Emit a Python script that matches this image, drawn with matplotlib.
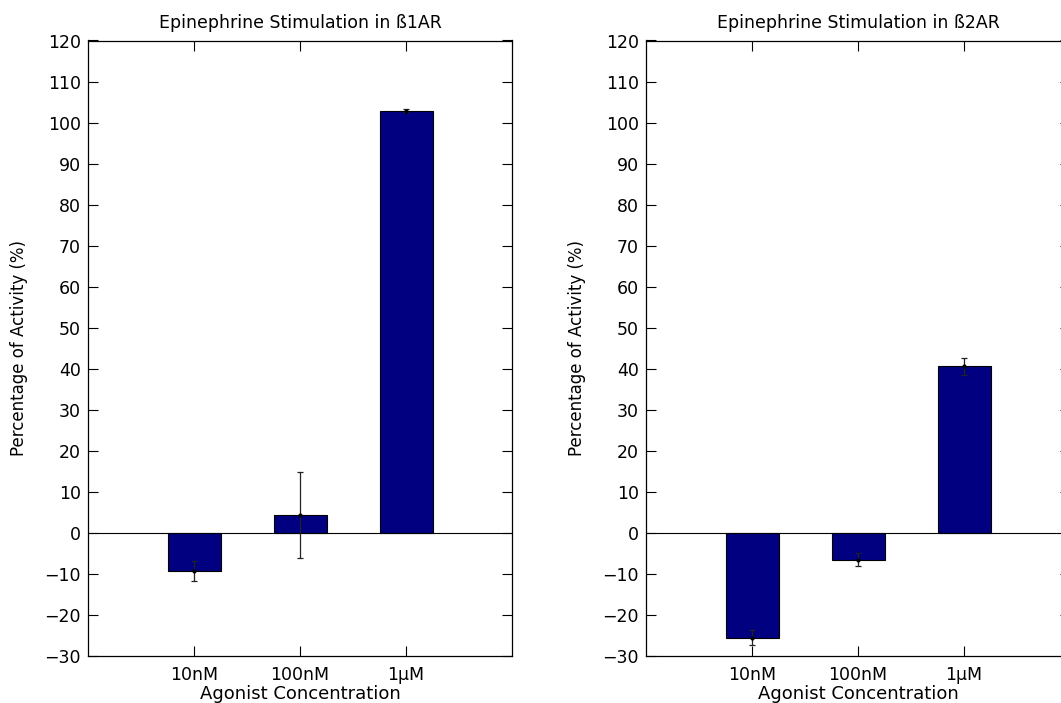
import matplotlib
matplotlib.use('Agg')
import matplotlib.pyplot as plt
import numpy as np

## dados
concentracoes = ['10nM', '100nM', '1\u00b5M']
b1_media = [-9.3, 4.4, 102.9]
b1_erro = [2.4, 10.4, 0.3]
b2_media = [-25.5, -6.5, 40.6]
b2_erro = [1.8, 1.6, 2.0]
titulos = ['Epinephrine Stimulation in \u00df1AR', 'Epinephrine Stimulation in \u00df2AR']

plt.rcParams['font.family'] = ['DejaVu Sans']
plt.rcParams['axes.unicode_minus'] = True

fig = plt.figure(figsize=(10.61, 7.03), dpi=100)
W, H = 1061, 703
ax1 = fig.add_axes([88 / W, 47 / H, 424 / W, 615.5 / H])
ax2 = fig.add_axes([646 / W, 47 / H, 424 / W, 615.5 / H])

x = np.arange(1, len(concentracoes) + 1)
for ax, media, erro, titulo in [(ax1, b1_media, b1_erro, titulos[0]),
                                (ax2, b2_media, b2_erro, titulos[1])]:
    ax.bar(x, media, width=0.5, color='#000080', edgecolor='black', linewidth=0.8, zorder=2)
    ax.axhline(0, color='black', linewidth=0.8, zorder=3)
    ax.errorbar(x, media, yerr=erro, fmt='.', color='black', ecolor='#222222',
                elinewidth=0.9, capsize=2.5, capthick=0.9, markersize=4, zorder=4)
    ax.set_xlim(0, 4)
    ax.set_ylim(-30, 120)
    ax.set_yticks(np.arange(-30, 121, 10))
    ax.set_xticks(x)
    ax.set_xticklabels(concentracoes)
    ax.tick_params(direction='in', top=True, right=True, length=7, width=0.8,
                   labelsize=12.5, pad=5)
    ax.tick_params(axis='x', pad=7)
    for s in ax.spines.values():
        s.set_linewidth(0.9)
    ax.set_title(titulo, fontsize=12.5, pad=9)
    ax.set_xlabel('Agonist Concentration', fontsize=13, labelpad=1)
    ax.set_ylabel('Percentage of Activity (%)', fontsize=12, labelpad=12)

fig.savefig('out.png', dpi=100)
